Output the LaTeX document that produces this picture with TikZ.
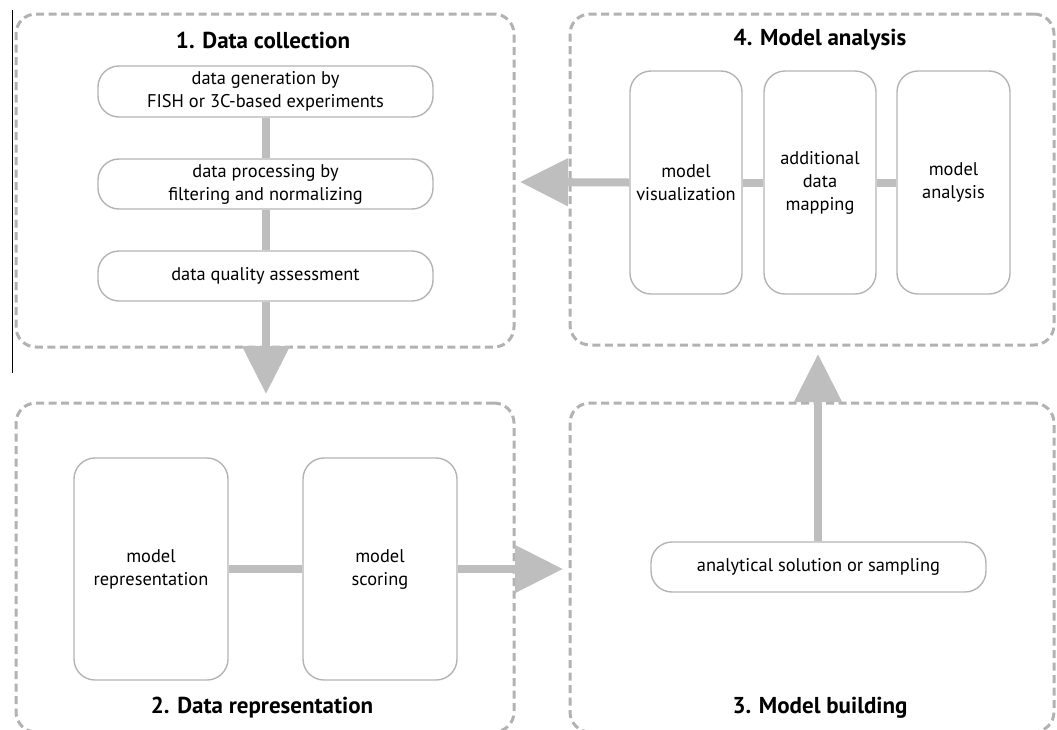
\documentclass[tikz,border=0pt]{standalone}
\usepackage{fontspec}
\setmainfont{PT Sans}
\usetikzlibrary{arrows.meta}
\definecolor{dashgray}{RGB}{178,178,178}
\definecolor{boxgray}{RGB}{180,180,180}
\definecolor{flowgray}{RGB}{190,190,190}
\tikzset{
  panel/.style={draw=dashgray, line width=3pt, dash pattern=on 8pt off 4.5pt,
    rounded corners=20pt, inner sep=0pt},
  stepbox/.style={draw=boxgray, line width=1.4pt, rounded corners=21pt, fill=white,
    align=center, inner sep=0pt, font=\fontsize{18.4}{23}\selectfont},
  title/.style={font=\fontsize{23}{27}\selectfont\bfseries, inner sep=0pt},
  flow/.style={draw=flowgray, line width=8pt},
  flowarrow/.style={flow, -{Triangle[width=46pt,length=48pt]}},
}
\begin{document}
\begin{tikzpicture}[x=1pt, y=-1pt]
\useasboundingbox (0,0) rectangle (1057,729);

% thin rule at the left edge
\coordinate (ruleA) at (12.5,10);
\coordinate (ruleB) at (12.5,373);
\draw[black, line width=1pt] (ruleA) -- (ruleB);

% the four stages
\node[panel, minimum width=498pt, minimum height=333pt] (p1) at (265,180.5) {};
\node[panel, minimum width=484pt, minimum height=331pt] (p4) at (812,179.5) {};
\node[panel, minimum width=498pt, minimum height=329pt] (p2) at (265,567.5) {};
\node[panel, minimum width=484pt, minimum height=329pt] (p3) at (812,567.5) {};

\node[title] (t1) at (263,40) {1. Data collection};
\node[title] (t4) at (820,40) {4. Model analysis};
\node[title] (t2) at (262,708) {2. Data representation};
\node[title] (t3) at (820,708) {3. Model building};

% 1. data collection
\node[stepbox, minimum width=335pt, minimum height=51pt] (gen) at (265.5,91.5)
  {data generation by\\FISH or 3C-based experiments};
\node[stepbox, minimum width=335pt, minimum height=50pt] (proc) at (265.5,184)
  {data processing by\\filtering and normalizing};
\node[stepbox, minimum width=335pt, minimum height=50pt] (qual) at (265.5,276)
  {data quality assessment};

% 4. model analysis
\node[stepbox, minimum width=112pt, minimum height=223pt] (vis) at (686,182.5)
  {model\\visualization};
\node[stepbox, minimum width=112pt, minimum height=223pt] (map) at (820,182.5)
  {additional\\data\\mapping};
\node[stepbox, minimum width=113pt, minimum height=223pt] (ana) at (953.5,182.5)
  {model\\analysis};

% 2. data representation
\node[stepbox, minimum width=154pt, minimum height=222pt] (rep) at (151,569)
  {model\\representation};
\node[stepbox, minimum width=154pt, minimum height=222pt] (sco) at (380,569)
  {model\\scoring};

% 3. model building
\node[stepbox, minimum width=335pt, minimum height=50pt] (sol) at (818.5,567)
  {analytical solution or sampling};

% free ends of the arrows between stages
\coordinate (tipA) at (266,394);
\coordinate (tipB) at (563,569);
\coordinate (tipC) at (818,354);
\coordinate (tipD) at (520,182);

% connectors within the stages
\draw[flow] (gen.south -| tipA) -- (proc.north -| tipA);
\draw[flow] (proc.south -| tipA) -- (qual.north -| tipA);
\draw[flow] (vis.east) -- (map.west);
\draw[flow] (map.east) -- (ana.west);
\draw[flow] (rep.east) -- (sco.west);

% arrows between the stages
\draw[flowarrow] (qual.south -| tipA) -- (tipA);
\draw[flowarrow] (sco.east) -- (tipB);
\draw[flowarrow] (sol.north -| tipC) -- (tipC);
\draw[flowarrow] (vis.west) -- (tipD);
\end{tikzpicture}
\end{document}
